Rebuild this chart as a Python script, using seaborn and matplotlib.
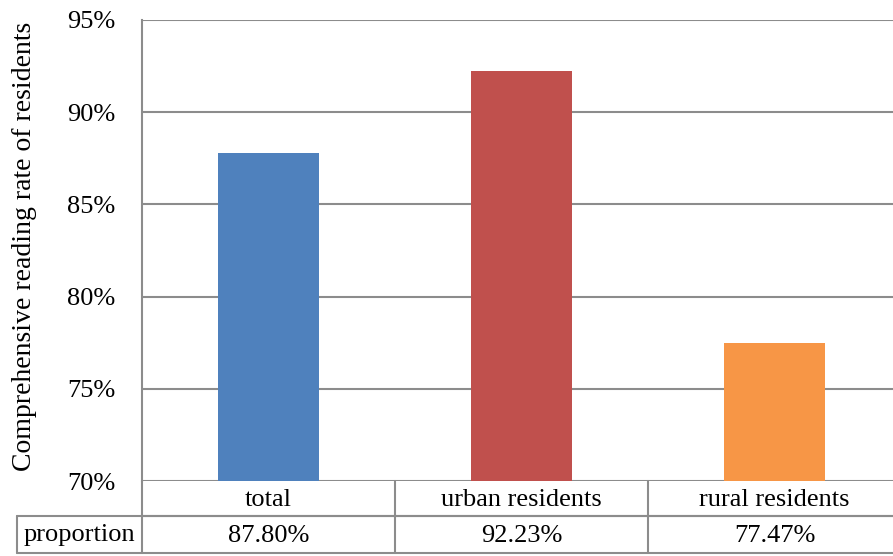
import matplotlib
matplotlib.use("Agg")
import matplotlib.pyplot as plt
import matplotlib.transforms as mtransforms
from matplotlib.lines import Line2D
import seaborn as sns
import pandas as pd

categories = ["total", "urban residents", "rural residents"]
rates = [87.80, 92.23, 77.47]
row_label = "proportion"
y_ticks = [70, 75, 80, 85, 90, 95]
colors = ["#4F81BD", "#C0504D", "#F79646"]

sns.set_theme(style="white")
plt.rcParams["font.family"] = ["Liberation Serif", "DejaVu Serif"]

W, H = 893, 556
FS = 19
fig = plt.figure(figsize=(W / 100, H / 100), dpi=100)
ax_left, ax_right, ax_top, ax_bottom = 142, 901, 20, 481
ax_w, ax_h = ax_right - ax_left, ax_bottom - ax_top
ax = fig.add_axes([ax_left / W, 1 - ax_bottom / H, ax_w / W, ax_h / H])

df = pd.DataFrame({"category": categories, "rate": rates})
sns.barplot(data=df, x="category", y="rate", hue="category",
            palette=colors, width=0.4, legend=False, ax=ax, saturation=1,
            linewidth=0, edgecolor="none")

grid_color = "#8C8C8C"
ax.set_ylim(70, 95)
ax.set_xlim(-0.5, len(categories) - 0.5)
ax.set_yticks(y_ticks)
ax.set_yticklabels([f"{t}%" for t in y_ticks], fontsize=FS, color="black")
ax.tick_params(axis="y", length=0, pad=19)
ax.set_xticks([])
ax.set_xlabel("")
ax.set_ylabel("Comprehensive reading rate of residents", fontsize=20,
              color="black")
ax.yaxis.set_label_coords((37 - ax_left) / ax_w, (ax_bottom - 246.5) / ax_h)
for t in y_ticks:
    ax.axhline(t, color=grid_color, lw=1.5, zorder=0)
for side in ["top", "right", "bottom"]:
    ax.spines[side].set_visible(False)
ax.spines["left"].set_color(grid_color)
ax.spines["left"].set_linewidth(1.5)

# data table under the plot
def fy(y):
    return 1 - y / H

def fx(x):
    return x / W

row1_bot, row2_bot = 516, 553
table_left = 17
lines = [
    ((fx(ax_left), fx(ax_right)), (fy(row1_bot), fy(row1_bot))),
    ((fx(table_left), fx(ax_right)), (fy(row1_bot), fy(row1_bot))),
    ((fx(table_left), fx(ax_right)), (fy(row2_bot), fy(row2_bot))),
    ((fx(table_left), fx(table_left)), (fy(row1_bot), fy(row2_bot))),
    ((fx(ax_left), fx(ax_left)), (fy(ax_bottom), fy(row2_bot))),
]
for xs, ys in lines:
    fig.add_artist(Line2D(xs, ys, transform=fig.transFigure,
                          color=grid_color, lw=1.5))

blend = mtransforms.blended_transform_factory(ax.transData, fig.transFigure)
for i in range(1, len(categories)):
    fig.add_artist(Line2D([i - 0.5, i - 0.5], [fy(ax_bottom), fy(row2_bot)],
                          transform=blend, color=grid_color, lw=1.5))

for i, (cat, val) in enumerate(zip(categories, rates)):
    fig.text(i, fy((ax_bottom + row1_bot) / 2 + 1), cat, transform=blend,
             ha="center", va="center", fontsize=FS, color="black")
    fig.text(i, fy((row1_bot + row2_bot) / 2 + 1), f"{val:.2f}%", transform=blend,
             ha="center", va="center", fontsize=FS, color="black")
fig.text(fx((table_left + ax_left) / 2), fy((row1_bot + row2_bot) / 2 + 1),
         row_label, ha="center", va="center", fontsize=FS, color="black")

fig.savefig("out.png", dpi=100)
